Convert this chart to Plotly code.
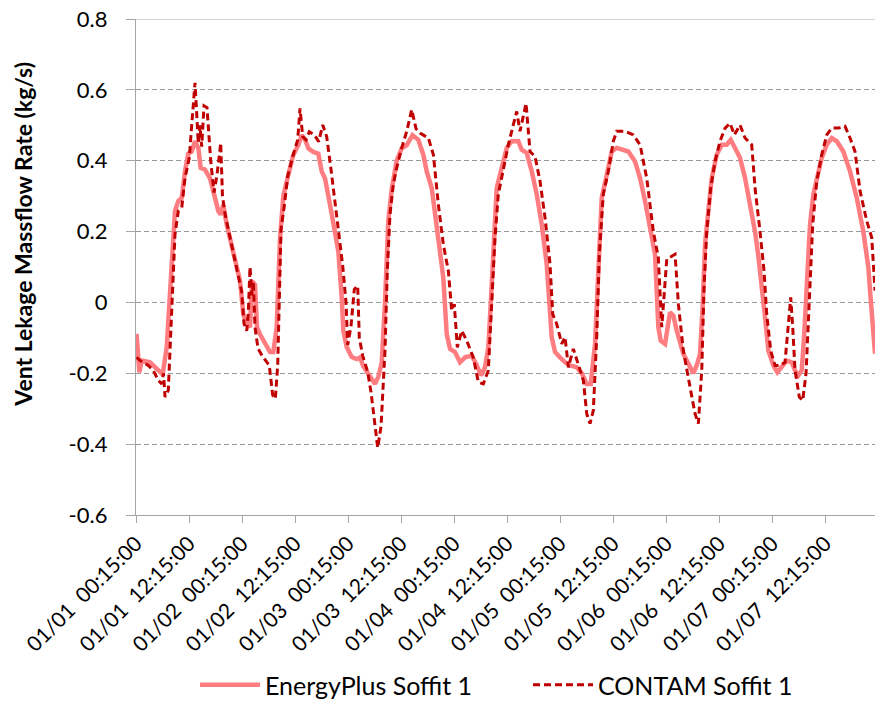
import plotly.graph_objects as go

# ---- data (hours since 01/01 00:15:00, vent leakage massflow in kg/s) ----
ep_hours = [0.0, 0.16, 0.75, 1.29, 3.17, 4.69, 6.04, 6.95, 7.54, 8.08, 8.83, 9.58, 10.35, 11.09, 11.84,
            12.61, 13.36, 14.10, 14.65, 15.62, 16.75, 17.89, 18.63, 19.18, 19.76, 20.53, 21.67, 22.80,
            23.55, 24.29, 25.06, 25.81, 26.26, 26.94, 27.39, 28.07, 29.59, 30.34, 31.08, 31.85, 32.60,
            33.35, 34.48, 35.61, 36.74, 37.51, 38.26, 39.01, 40.14, 41.27, 42.04, 42.79, 43.92, 45.05,
            45.80, 46.57, 46.93, 47.70, 48.83, 49.97, 50.71, 51.46, 52.98, 54.11, 54.86, 55.63, 56.37,
            57.12, 57.89, 59.02, 60.15, 61.29, 62.60, 63.91, 65.04, 65.81, 66.95, 68.08, 68.83, 69.57,
            70.34, 71.09, 72.22, 73.35, 74.49, 76.00, 76.98, 78.11, 79.01, 79.76, 80.30, 80.89, 81.66,
            82.79, 83.93, 85.06, 86.55, 87.32, 88.45, 89.59, 90.72, 91.85, 92.98, 94.11, 94.86, 95.99,
            97.13, 98.26, 99.78, 100.91, 102.04, 102.95, 103.92, 104.67, 105.43, 106.57, 107.70, 108.83,
            110.33, 111.46, 112.97, 114.11, 115.24, 116.37, 117.50, 118.25, 118.79, 119.77, 120.90,
            121.65, 122.42, 123.91, 125.43, 126.17, 126.94, 127.69, 128.30, 128.82, 129.57, 130.34,
            131.47, 132.60, 133.73, 134.64, 135.61, 136.74, 137.88, 139.01, 140.14, 140.89, 141.66,
            142.41, 143.16, 144.29, 145.20, 146.19, 147.32, 148.45, 149.20, 149.95, 150.71, 151.24,
            151.85, 152.59, 153.34, 154.11, 155.24, 156.38, 157.51, 158.64, 160.13, 161.65, 163.17,
            164.66, 165.80, 166.18, 166.93, 167.31]
ep_flow = [-0.09, -0.094, -0.197, -0.164, -0.169, -0.187, -0.203, -0.127, -0.005, 0.136, 0.258, 0.286,
           0.295, 0.37, 0.42, 0.426, 0.455, 0.436, 0.38, 0.375, 0.35, 0.295, 0.258, 0.248, 0.276, 0.22,
           0.164, 0.098, 0.061, -0.033, -0.061, -0.07, 0.06, 0.05, -0.07, -0.09, -0.126, -0.14, -0.14,
           -0.07, 0.18, 0.30, 0.36, 0.416, 0.444, 0.472, 0.46, 0.435, 0.425, 0.42, 0.37, 0.35, 0.276,
           0.20, 0.145, 0.014, -0.08, -0.126, -0.154, -0.16, -0.155, -0.18, -0.21, -0.23, -0.21, -0.17,
           0.0, 0.23, 0.32, 0.40, 0.435, 0.444, 0.472, 0.459, 0.417, 0.37, 0.323, 0.22, 0.145, 0.07,
           -0.089, -0.131, -0.14, -0.169, -0.155, -0.15, -0.173, -0.206, -0.183, -0.127, -0.005, 0.155,
           0.323, 0.38, 0.436, 0.455, 0.455, 0.431, 0.422, 0.37, 0.305, 0.22, 0.108, -0.098, -0.14,
           -0.155, -0.169, -0.178, -0.183, -0.2, -0.23, -0.23, -0.117, 0.089, 0.295, 0.36, 0.426, 0.436,
           0.431, 0.426, 0.398, 0.351, 0.286, 0.211, 0.136, -0.07, -0.108, -0.117, -0.028, -0.037,
           -0.08, -0.145, -0.187, -0.2, -0.178, -0.145, -0.005, 0.164, 0.258, 0.351, 0.417, 0.445,
           0.445, 0.459, 0.436, 0.408, 0.351, 0.276, 0.2, 0.131, 0.052, -0.042, -0.136, -0.178, -0.197,
           -0.183, -0.164, -0.169, -0.192, -0.206, -0.192, -0.098, 0.07, 0.22, 0.305, 0.351, 0.408,
           0.445, 0.464, 0.455, 0.426, 0.37, 0.295, 0.2, 0.098, 0.033, -0.08, -0.145]

ct_hours = [0.16, 0.91, 2.78, 3.92, 5.05, 5.82, 6.23, 6.57, 7.31, 8.08, 8.83, 9.58, 10.35, 11.09, 12.07,
            12.61, 13.36, 14.10, 14.49, 14.87, 15.40, 16.07, 16.91, 17.66, 18.34, 19.18, 19.58, 20.15,
            21.67, 22.80, 23.93, 24.45, 25.06, 25.42, 25.81, 26.26, 26.56, 26.94, 27.62, 28.53, 29.59,
            30.18, 30.95, 31.54, 32.08, 32.44, 32.83, 33.57, 34.35, 35.48, 36.61, 37.13, 37.74, 38.49,
            39.24, 40.37, 41.36, 42.27, 43.17, 44.15, 45.28, 46.03, 46.80, 47.54, 47.93, 48.68, 49.42,
            50.19, 50.55, 51.32, 52.46, 53.20, 53.95, 54.72, 55.47, 56.37, 56.89, 57.50, 58.25, 59.02,
            60.15, 61.29, 62.42, 63.40, 64.30, 66.19, 67.32, 68.45, 69.57, 70.71, 71.47, 72.06, 72.74,
            73.74, 74.87, 76.36, 77.50, 78.63, 79.76, 80.53, 81.28, 82.02, 83.16, 84.29, 85.42, 86.19,
            86.94, 87.84, 88.30, 89.20, 90.33, 91.47, 92.60, 93.73, 94.34, 95.25, 96.38, 97.13, 97.88,
            99.01, 100.14, 101.27, 102.04, 102.79, 103.53, 104.30, 104.89, 105.79, 106.93, 108.06,
            108.83, 110.71, 112.59, 114.11, 115.62, 117.12, 118.25, 119.02, 120.16, 122.04, 122.79,
            123.91, 125.43, 126.56, 127.31, 128.08, 128.60, 129.21, 130.11, 131.09, 132.22, 133.36,
            134.49, 135.46, 136.74, 137.88, 139.39, 140.14, 141.27, 142.18, 142.79, 143.69, 144.67,
            145.80, 146.93, 147.68, 148.22, 148.67, 149.20, 150.17, 150.94, 151.69, 152.43, 153.20,
            154.11, 155.24, 156.38, 157.51, 159.01, 160.52, 161.65, 162.78, 163.92, 165.43, 166.56,
            167.31]
ct_flow = [-0.155, -0.164, -0.178, -0.192, -0.22, -0.23, -0.20, -0.267, -0.248, -0.005, 0.192, 0.258,
           0.267, 0.351, 0.408, 0.50, 0.62, 0.45, 0.50, 0.44, 0.555, 0.55, 0.40, 0.31, 0.36, 0.45, 0.30,
           0.25, 0.16, 0.10, 0.03, -0.06, -0.08, -0.03, 0.10, 0.02, 0.06, -0.07, -0.13, -0.15, -0.17,
           -0.178, -0.262, -0.272, -0.178, -0.01, 0.206, 0.272, 0.356, 0.412, 0.459, 0.548, 0.468,
           0.459, 0.482, 0.473, 0.454, 0.501, 0.468, 0.375, 0.253, 0.169, 0.103, 0.0, -0.12, -0.066,
           0.037, 0.047, -0.10, -0.15, -0.197, -0.253, -0.337, -0.41, -0.35, -0.136, 0.089, 0.248,
           0.333, 0.38, 0.436, 0.483, 0.544, 0.49, 0.478, 0.464, 0.417, 0.276, 0.164, 0.089, -0.023,
           -0.005, -0.127, -0.08, -0.108, -0.155, -0.225, -0.23, -0.192, 0.014, 0.183, 0.305, 0.38,
           0.445, 0.501, 0.539, 0.483, 0.534, 0.562, 0.426, 0.412, 0.342, 0.239, 0.108, -0.033, -0.061,
           -0.117, -0.098, -0.183, -0.131, -0.173, -0.22, -0.314, -0.342, -0.305, -0.098, 0.136, 0.305,
           0.37, 0.455, 0.483, 0.483, 0.473, 0.445, 0.351, 0.2, 0.126, -0.07, 0.122, 0.136, -0.005,
           -0.136, -0.239, -0.314, -0.342, -0.192, 0.042, 0.2, 0.323, 0.398, 0.455, 0.492, 0.506,
           0.473, 0.501, 0.464, 0.445, 0.323, 0.2, 0.089, -0.033, -0.136, -0.178, -0.178, -0.169,
           -0.07, 0.014, -0.07, -0.192, -0.267, -0.277, -0.2, -0.005, 0.22, 0.342, 0.417, 0.473, 0.492,
           0.492, 0.497, 0.464, 0.426, 0.314, 0.23, 0.183, 0.033]

tick_hours = [0, 12, 24, 36, 48, 60, 72, 84, 96, 108, 120, 132, 144, 156]
tick_labels = ["01/01\u00a0\u00a000:15:00", "01/01\u00a0\u00a012:15:00",
               "01/02\u00a0\u00a000:15:00", "01/02\u00a0\u00a012:15:00",
               "01/03\u00a0\u00a000:15:00", "01/03\u00a0\u00a012:15:00",
               "01/04\u00a0\u00a000:15:00", "01/04\u00a0\u00a012:15:00",
               "01/05\u00a0\u00a000:15:00", "01/05\u00a0\u00a012:15:00",
               "01/06\u00a0\u00a000:15:00", "01/06\u00a0\u00a012:15:00",
               "01/07\u00a0\u00a000:15:00", "01/07\u00a0\u00a012:15:00"]
y_ticks = [-0.6, -0.4, -0.2, 0, 0.2, 0.4, 0.6, 0.8]
y_labels = ["-0.6", "-0.4", "-0.2", "0", "0.2", "0.4", "0.6", "0.8"]

FONT = "Lato"

fig = go.Figure()
fig.add_trace(go.Scatter(x=ep_hours, y=ep_flow, mode="lines", name="EnergyPlus Soffit 1",
                         line=dict(color="#FF7C80", width=4.5)))
fig.add_trace(go.Scatter(x=ct_hours, y=ct_flow, mode="lines", name="CONTAM Soffit 1",
                         line=dict(color="#C00000", width=3, dash="7px,4px")))

fig.add_shape(type="line", xref="paper", yref="y", x0=0, x1=1, y0=0.8, y1=0.8,
              line=dict(color="#A6A6A6", width=1.2), layer="below")

fig.update_layout(
    width=875, height=708,
    margin=dict(l=136, r=0, t=19, b=190),
    paper_bgcolor="white", plot_bgcolor="white",
    font=dict(family=FONT, size=20, color="black"),
    showlegend=True,
    legend=dict(orientation="h", xanchor="left", yanchor="middle", x=(195 - 136) / 739, y=-0.343,
                font=dict(family=FONT, size=25, color="black"), itemwidth=60,
                entrywidth=258, entrywidthmode="pixels",
                bgcolor="rgba(0,0,0,0)"),
    xaxis=dict(range=[0, 167.3], tickmode="array", tickvals=tick_hours, ticktext=tick_labels,
               tickangle=-45, showgrid=False, zeroline=False, showline=True,
               linecolor="#A6A6A6", linewidth=1.2, ticks="outside", ticklen=7,
               tickcolor="#A6A6A6", tickfont=dict(family=FONT, size=21, color="black")),
    yaxis=dict(range=[-0.6, 0.8], tickmode="array", tickvals=y_ticks, ticktext=y_labels,
               showgrid=True, gridcolor="#999999", gridwidth=1, griddash="5px,3px",
               zeroline=False, showline=True, linecolor="#A6A6A6", linewidth=1.2,
               ticks="outside", ticklen=9, tickcolor="#A6A6A6", ticklabelstandoff=14,
               tickfont=dict(family=FONT, size=22, color="black")),
)

fig.add_annotation(text="<b>Vent Lekage Massflow Rate (kg/s)</b>", xref="paper", yref="paper",
                   x=(23 - 136) / 739, y=(518 - 236) / 499, textangle=-90, showarrow=False,
                   xanchor="center", yanchor="middle",
                   font=dict(family=FONT, size=23, color="black"))

fig.write_html("out.html")
